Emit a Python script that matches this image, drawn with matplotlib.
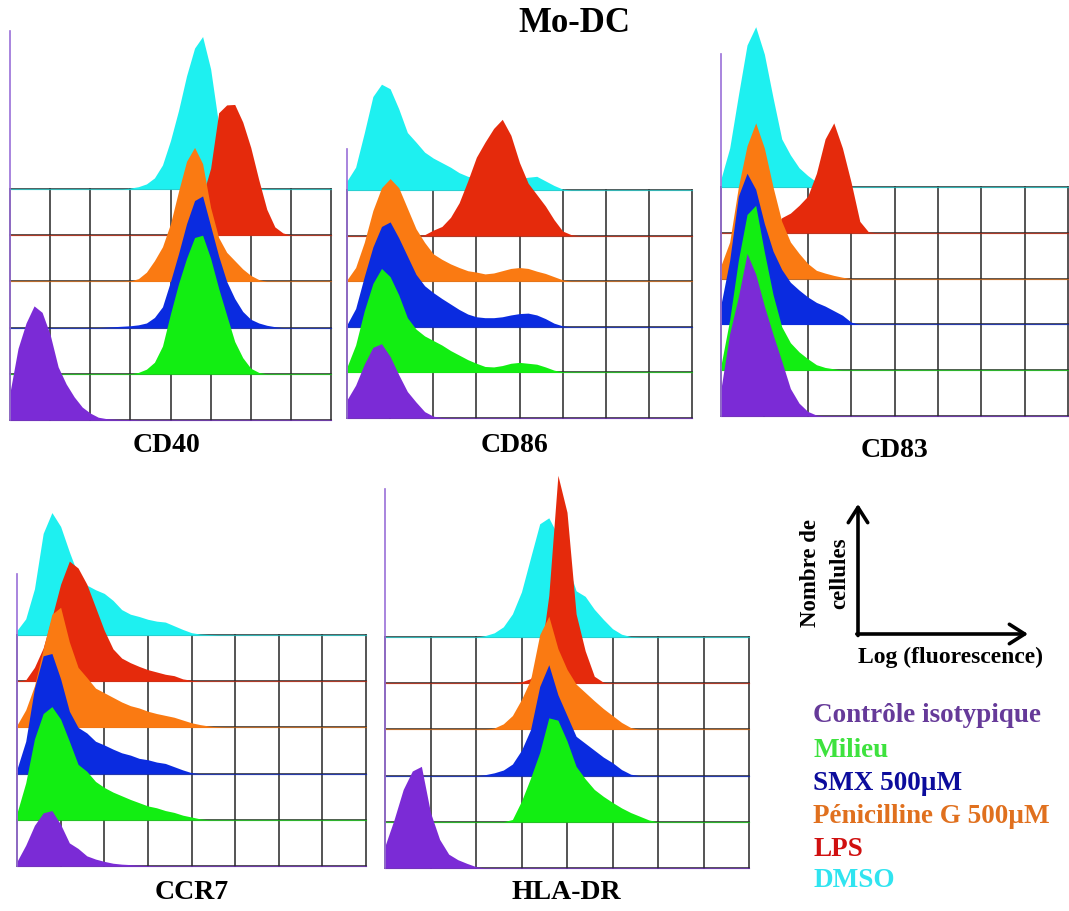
import numpy as np
import matplotlib.pyplot as plt

plt.rcParams['font.family'] = ['Liberation Serif', 'DejaVu Serif']
plt.rcParams['font.weight'] = 'bold'

W, H = 1069, 912

conditions = ["Contrôle isotypique", "Milieu", "SMX 500µM",
              "Pénicilline G 500µM", "LPS", "DMSO"]
fill_colors = ["#7b2bd6", "#12ee12", "#0a2be0", "#fa7a12", "#e52a0c", "#1ef0f0"]
label_colors = ["#663a99", "#3ee23e", "#0c0c9c", "#e0701e", "#d01010", "#30e4f0"]

# fluorescence channels in grid-column units (8 log columns per panel)
step = 0.2
channels = np.round(np.arange(0, 8.001, step), 1)

# one histogram = (first channel, cell counts in grid-row units)
# order: isotype, milieu, SMX, penicillin G, LPS, DMSO (bottom row -> top row)
cd40 = [
    (0.0, [0.6, 1.55, 2.1, 2.47, 2.33, 1.85, 1.15, 0.78, 0.5, 0.28, 0.15, 0.06, 0.03, 0.02, 0.01, 0.01]),
    (3.2, [0.03, 0.1, 0.25, 0.6, 1.3, 1.95, 2.5, 2.95, 3.0, 2.5, 1.85, 1.27, 0.7, 0.35, 0.12, 0.03]),
    (2.4, [0.01, 0.02, 0.03, 0.04, 0.06, 0.1, 0.22, 0.45, 1.0, 1.6, 2.25, 2.75, 2.85, 2.2, 1.55, 1.0,
           0.63, 0.35, 0.18, 0.1, 0.05, 0.02]),
    (3.0, [0.01, 0.06, 0.2, 0.45, 0.75, 1.25, 1.95, 2.6, 2.9, 2.55, 1.6, 0.95, 0.63, 0.45, 0.27, 0.13, 0.04]),
    (4.2, [0.05, 0.15, 0.4, 0.85, 1.45, 2.65, 2.82, 2.83, 2.45, 1.9, 1.2, 0.56, 0.18, 0.05]),
    (3.0, [0.02, 0.05, 0.11, 0.24, 0.52, 1.05, 1.7, 2.45, 3.05, 3.3, 2.6, 1.4, 0.8, 0.42, 0.2, 0.07, 0.02]),
]
cd86 = [
    (0.0, [0.4, 0.72, 1.18, 1.55, 1.63, 1.35, 0.95, 0.58, 0.35, 0.14, 0.04, 0.01]),
    (0.0, [0.12, 0.6, 1.35, 1.95, 2.28, 2.1, 1.7, 1.2, 0.95, 0.8, 0.7, 0.6, 0.48, 0.38, 0.28, 0.2,
           0.13, 0.12, 0.15, 0.2, 0.22, 0.2, 0.18, 0.12, 0.05, 0.01]),
    (0.0, [0.05, 0.4, 1.1, 1.75, 2.2, 2.3, 1.95, 1.55, 1.15, 0.9, 0.75, 0.62, 0.5, 0.38, 0.28, 0.22,
           0.2, 0.2, 0.22, 0.26, 0.29, 0.3, 0.26, 0.18, 0.08, 0.02]),
    (0.0, [0.03, 0.3, 0.85, 1.55, 2.05, 2.25, 2.05, 1.6, 1.15, 0.85, 0.6, 0.48, 0.38, 0.3, 0.23, 0.2,
           0.16, 0.18, 0.23, 0.28, 0.3, 0.28, 0.22, 0.17, 0.1, 0.03]),
    (1.8, [0.02, 0.12, 0.2, 0.4, 0.72, 1.2, 1.72, 2.05, 2.35, 2.55, 2.2, 1.6, 1.15, 0.9, 0.65, 0.35, 0.1, 0.02]),
    (0.0, [0.2, 0.5, 1.25, 2.05, 2.32, 2.22, 1.78, 1.26, 1.05, 0.83, 0.7, 0.6, 0.5, 0.38, 0.3, 0.27,
           0.25, 0.24, 0.24, 0.25, 0.25, 0.28, 0.3, 0.2, 0.1, 0.02]),
]
cd83 = [
    (0.0, [0.6, 1.8, 2.6, 3.55, 3.1, 2.4, 1.78, 1.2, 0.6, 0.28, 0.1, 0.02]),
    (0.0, [0.11, 1.1, 2.4, 3.4, 3.6, 2.58, 1.65, 0.95, 0.6, 0.4, 0.25, 0.12, 0.06, 0.03]),
    (0.0, [0.44, 1.4, 2.8, 3.3, 2.95, 2.2, 1.6, 1.2, 0.92, 0.75, 0.6, 0.48, 0.4, 0.3, 0.2, 0.05]),
    (0.0, [0.29, 0.8, 2.0, 2.9, 3.4, 2.85, 2.0, 1.25, 0.8, 0.55, 0.33, 0.18, 0.12, 0.07, 0.03]),
    (1.2, [0.1, 0.33, 0.43, 0.6, 0.8, 1.3, 2.05, 2.4, 1.85, 1.1, 0.25, 0.02]),
    (0.0, [0.18, 0.85, 2.0, 3.1, 3.5, 2.9, 1.95, 1.05, 0.7, 0.42, 0.25, 0.11, 0.05, 0.02]),
]
ccr7 = [
    (0.0, [0.1, 0.45, 0.88, 1.15, 1.2, 0.9, 0.5, 0.38, 0.22, 0.15, 0.1, 0.06, 0.04, 0.03, 0.02, 0.01]),
    (0.0, [0.15, 0.8, 1.75, 2.3, 2.45, 2.18, 1.7, 1.2, 1.05, 0.83, 0.7, 0.6, 0.52, 0.44, 0.37, 0.3,
           0.26, 0.2, 0.16, 0.1, 0.06, 0.02]),
    (0.0, [0.1, 0.7, 1.85, 2.55, 2.6, 2.05, 1.35, 1.0, 0.88, 0.7, 0.62, 0.53, 0.45, 0.4, 0.33, 0.3,
           0.25, 0.22, 0.15, 0.08, 0.02]),
    (0.0, [0.05, 0.38, 0.9, 1.7, 2.45, 2.6, 1.85, 1.3, 1.08, 0.85, 0.75, 0.65, 0.55, 0.47, 0.42, 0.35,
           0.3, 0.26, 0.22, 0.16, 0.1, 0.06, 0.03, 0.01]),
    (0.2, [0.03, 0.3, 0.72, 1.38, 2.1, 2.6, 2.45, 2.1, 1.6, 1.1, 0.7, 0.5, 0.4, 0.32, 0.25, 0.2,
           0.15, 0.12, 0.05, 0.02]),
    (0.0, [0.1, 0.35, 1.0, 2.2, 2.65, 2.35, 1.8, 1.3, 1.08, 0.98, 0.9, 0.75, 0.55, 0.45, 0.4, 0.34,
           0.3, 0.28, 0.2, 0.12, 0.05, 0.02, 0.01]),
]
hladr = [
    (0.0, [0.48, 1.05, 1.7, 2.1, 2.2, 1.2, 0.62, 0.3, 0.18, 0.1, 0.03]),
    (2.8, [0.05, 0.45, 0.95, 1.5, 2.25, 2.2, 1.75, 1.2, 0.93, 0.7, 0.55, 0.42, 0.3, 0.2, 0.12, 0.04]),
    (2.2, [0.02, 0.06, 0.12, 0.25, 0.55, 1.0, 1.93, 2.4, 1.75, 1.3, 0.85, 0.7, 0.55, 0.4, 0.28, 0.13, 0.03]),
    (2.4, [0.03, 0.12, 0.3, 0.65, 1.08, 2.05, 2.45, 1.75, 1.3, 0.98, 0.8, 0.62, 0.45, 0.3, 0.15, 0.04]),
    (3.0, [0.03, 0.1, 0.45, 1.9, 4.5, 3.7, 1.5, 0.7, 0.15, 0.02]),
    (2.2, [0.03, 0.09, 0.22, 0.5, 0.98, 1.72, 2.45, 2.58, 2.2, 1.6, 1.0, 0.88, 0.6, 0.38, 0.18, 0.06, 0.01]),
]

# panel layout in pixels: name, data, grid left/right, bottom baseline, row height,
# top of panel area, top of the left axis line, label centre
panels = [
    ("CD40", cd40, 10, 331, 421, 46.2, 20, 32, (166, 446)),
    ("CD86", cd86, 347, 692, 419, 45.6, 20, 150, (515, 446)),
    ("CD83", cd83, 721, 1068, 417, 45.8, 20, 55, (895, 451)),
    ("CCR7", ccr7, 17, 366, 867, 46.2, 470, 575, (192, 893)),
    ("HLA-DR", hladr, 385, 749, 869, 46.2, 470, 490, (566, 893)),
]


def counts(start, vals):
    h = np.zeros(len(channels))
    i = int(round(start / step))
    h[i:i + len(vals)] = vals
    return h


fig = plt.figure(figsize=(W / 100, H / 100), dpi=100)
bg = fig.add_axes([0, 0, 1, 1])
bg.set_xlim(0, W)
bg.set_ylim(H, 0)
bg.axis('off')

for name, data, x0, x1, base, rowh, top, axis_top, lab in panels:
    ax = fig.add_axes([x0 / W, (H - base) / H, (x1 - x0) / W, (base - top) / H])
    ax.set_xlim(0, 8)
    ax.set_ylim(0, (base - top) / rowh)
    ax.axis('off')
    ax.patch.set_alpha(0)

    # grid of the offset overlay
    for c in range(9):
        ax.plot([c, c], [0, 5], color='#262626', lw=1.1, zorder=1, clip_on=False)
    for r in range(6):
        ax.plot([0, 8], [r, r], color='#262626', lw=1.1, zorder=1, clip_on=False)

    # back (DMSO) to front (isotype)
    for k in range(5, -1, -1):
        start, vals = data[k]
        h = counts(start, vals)
        z = 10 - k
        ax.fill_between(channels, k, k + h, color=fill_colors[k], lw=0, zorder=z)
        ax.plot([0, 8], [k, k], color=fill_colors[k], lw=0.9, alpha=0.6, zorder=z, clip_on=False)

    ax.plot([0, 0], [0, (base - axis_top) / rowh], color='#9a6fd8', lw=1.2, zorder=20, clip_on=False)

    bg.text(lab[0], lab[1], name, fontsize=20, fontweight='bold', ha='center', va='center')

bg.text(574, 23, "Mo-DC", fontsize=25, fontweight='bold', ha='center', va='center')

# axis legend sketch
arrow = dict(arrowstyle='->,head_length=0.55,head_width=0.35', lw=2.6, color='black',
             shrinkA=0, shrinkB=0, mutation_scale=20)
bg.annotate('', xy=(858, 505), xytext=(858, 636.5), arrowprops=arrow)
bg.annotate('', xy=(1028, 635), xytext=(856.8, 635), arrowprops=arrow)
bg.text(951, 657, "Log (fluorescence)", fontsize=17, fontweight='bold', ha='center', va='center')
bg.text(811, 573, "Nombre de", fontsize=16.5, fontweight='bold', ha='center', va='center', rotation=90)
bg.text(840, 573, "cellules", fontsize=16.5, fontweight='bold', ha='center', va='center', rotation=90)

legend_y = [716, 751, 784, 817, 850, 881]
for name, col, y in zip(conditions, label_colors, legend_y):
    bg.text(813, y, name, fontsize=19.5, fontweight='bold', color=col, ha='left', va='center')

fig.savefig('out.png', dpi=100)
